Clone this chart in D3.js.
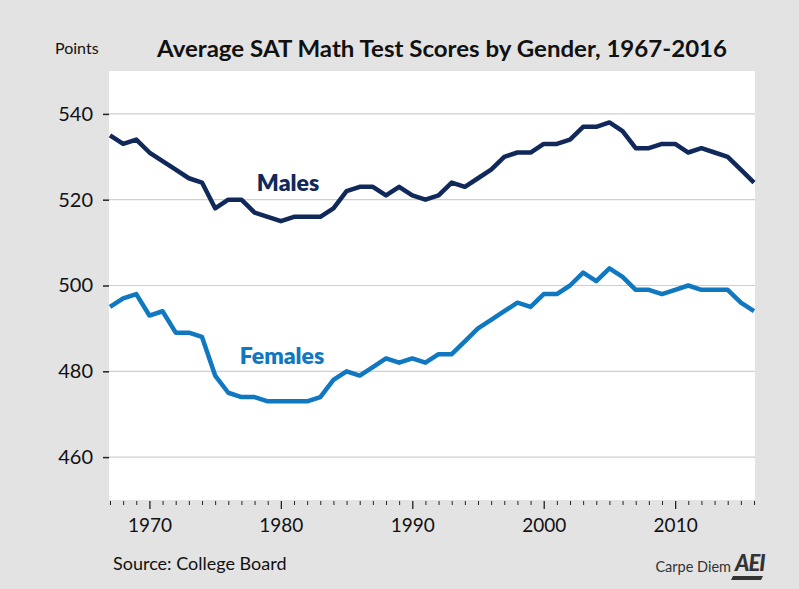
<!DOCTYPE html>
<html>
<head>
<meta charset="utf-8">
<script src="https://cdn.jsdelivr.net/npm/d3@7"></script>
<style>
  html, body { margin: 0; padding: 0; background: #e3e3e3; }
  svg { display: block; font-family: Lato, "Open Sans", sans-serif; }
</style>
</head>
<body>
<svg id="chart" width="799" height="589"></svg>
<script>
const years = d3.range(1967, 2017);
const males = [535,533,534,531,529,527,525,524,518,520,520,517,516,515,516,516,516,518,522,523,523,521,523,521,520,521,524,523,525,527,530,531,531,533,533,534,537,537,538,536,532,532,533,533,531,532,531,530,527,524];
const females = [495,497,498,493,494,489,489,488,479,475,474,474,473,473,473,473,474,478,480,479,481,483,482,483,482,484,484,487,490,492,494,496,495,498,498,500,503,501,504,502,499,499,498,499,500,499,499,499,496,494];
const yTicks = [460, 480, 500, 520, 540];
const xTicks = [1970, 1980, 1990, 2000, 2010];
const title = "Average SAT Math Test Scores by Gender, 1967-2016";

const svg = d3.select("#chart");
const L = 109, R = 755, T = 71, B = 500;

const x = d3.scaleLinear().domain([1967, 2016]).range([L + 1, R - 1]);
const y = d3.scaleLinear().domain([450, 550]).range([B, T]);

svg.append("rect").attr("x", L).attr("y", T).attr("width", R - L).attr("height", B - T).attr("fill", "#fff");

// gridlines
svg.append("g").selectAll("line").data(yTicks).join("line")
  .attr("x1", L).attr("x2", R).attr("y1", d => y(d)).attr("y2", d => y(d))
  .attr("stroke", "#cfcfcf").attr("stroke-width", 1.2);

// y axis
const yAxis = svg.append("g").attr("transform", `translate(${L},0)`)
  .call(d3.axisLeft(y).tickValues(yTicks).tickSize(6).tickPadding(10));
yAxis.select(".domain").remove();
yAxis.selectAll(".tick line").attr("stroke", "#222").attr("stroke-width", 1.5);
yAxis.selectAll(".tick text").attr("font-size", 20).attr("fill", "#111").attr("font-family", "Lato");

// x axis: minor ticks every year
const xMinor = svg.append("g").attr("transform", `translate(0,${B + 1})`)
  .call(d3.axisBottom(x).tickValues(years.filter(d => d % 10 !== 0)).tickSize(4).tickFormat(""));
xMinor.select(".domain").remove();
xMinor.selectAll(".tick line").attr("stroke", "#222").attr("stroke-width", 1);

const xMajor = svg.append("g").attr("transform", `translate(0,${B + 1})`)
  .call(d3.axisBottom(x).tickValues(xTicks).tickSize(8).tickPadding(10).tickFormat(d3.format("d")));
xMajor.select(".domain").remove();
xMajor.selectAll(".tick line").attr("stroke", "#222").attr("stroke-width", 1.3);
xMajor.selectAll(".tick text").attr("font-size", 19).attr("fill", "#111").attr("font-family", "Lato");

// lines
const line = d3.line().x((d, i) => x(years[i])).y(d => y(d));
svg.append("path").datum(females).attr("d", line).attr("fill", "none")
  .attr("stroke", "#0f78c0").attr("stroke-width", 4.5).attr("stroke-linejoin", "round");
svg.append("path").datum(males).attr("d", line).attr("fill", "none")
  .attr("stroke", "#10295a").attr("stroke-width", 4.5).attr("stroke-linejoin", "round");

// series labels
svg.append("text").attr("x", 288).attr("y", 191).attr("text-anchor", "middle")
  .attr("font-size", 23).attr("font-weight", 800).attr("fill", "#10295a").text("Males");
svg.append("text").attr("x", 282).attr("y", 364).attr("text-anchor", "middle")
  .attr("font-size", 23).attr("font-weight", 800).attr("fill", "#0f78c0").text("Females");

// title & axis caption
svg.append("text").attr("x", 442).attr("y", 57).attr("text-anchor", "middle")
  .attr("font-size", 23).attr("font-weight", 700).attr("fill", "#111")
  .attr("textLength", 570).attr("lengthAdjust", "spacingAndGlyphs").text(title);
svg.append("text").attr("x", 55).attr("y", 54)
  .attr("font-size", 16).attr("fill", "#111").text("Points");

// source
svg.append("text").attr("x", 113).attr("y", 570)
  .attr("font-size", 18).attr("fill", "#111").text("Source: College Board");

// branding
svg.append("text").attr("x", 731).attr("y", 572).attr("text-anchor", "end")
  .attr("font-size", 14.5).attr("fill", "#333").text("Carpe Diem");
const logo = svg.append("g").attr("transform", "translate(733,552)");
logo.append("text").attr("x", 2).attr("y", 19).attr("font-size", 22).attr("font-weight", 900)
  .attr("font-style", "italic").attr("fill", "#333").attr("letter-spacing", -1).text("AEI");
logo.append("path").attr("d", "M0,24 L30,24 L28,28 L-2,28 Z").attr("fill", "#333");
</script>
</body>
</html>
